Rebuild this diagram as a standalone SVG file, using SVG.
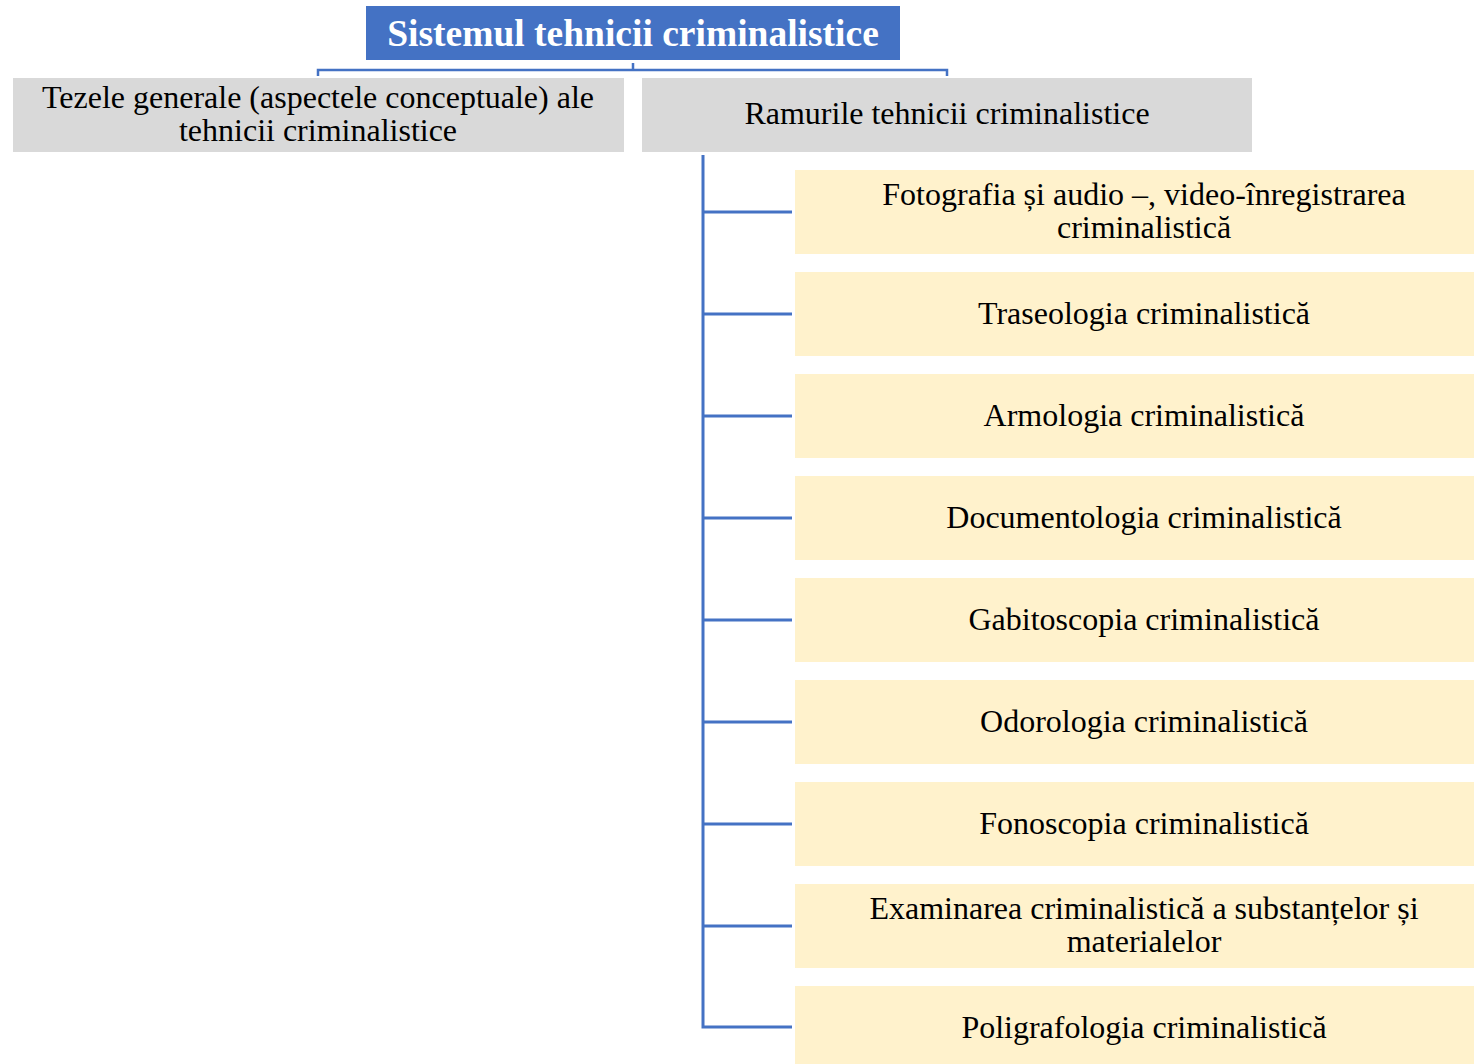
<svg xmlns="http://www.w3.org/2000/svg" width="1474" height="1064" viewBox="0 0 1474 1064">
<style>
.t{font-family:"Liberation Serif","Times New Roman",serif;font-size:32px;fill:#000;text-anchor:middle}
.title{font-family:"Liberation Serif","Times New Roman",serif;font-size:37.5px;font-weight:bold;fill:#fff;text-anchor:middle}
.g{fill:#D9D9D9}
.y{fill:#FFF2CC}
.c{stroke:#4472C4;stroke-width:2.5;fill:none}
.v{stroke:#4472C4;stroke-width:3;fill:none}
</style>
<rect width="1474" height="1064" fill="#fff"/>
<g id="connectors">
<path class="c" d="M633 63V70M318 76V70H947V76"/>
<path class="v" d="M703 155V1027H792"/>
<path class="v" d="M703 212H792M703 314H792M703 416H792M703 518H792M703 620H792M703 722H792M703 824H792M703 926H792"/>
</g>
<g id="root"><rect x="366" y="6" width="534" height="54" fill="#4472C4"/><text class="title" x="633" y="46">Sistemul tehnicii criminalistice</text></g>
<g id="general"><rect class="g" x="13" y="78" width="611" height="74"/><text class="t" x="318" y="108">Tezele generale (aspectele conceptuale) ale</text><text class="t" x="318" y="141">tehnicii criminalistice</text></g>
<g id="ramuri"><rect class="g" x="642" y="78" width="610" height="74"/><text class="t" x="947" y="124">Ramurile tehnicii criminalistice</text></g>
<g id="n1"><rect class="y" x="795" y="170" width="700" height="84"/><text class="t" x="1144" y="205">Fotografia și audio –, video-înregistrarea</text><text class="t" x="1144" y="238">criminalistică</text></g>
<g id="n2"><rect class="y" x="795" y="272" width="700" height="84"/><text class="t" x="1144" y="324">Traseologia criminalistică</text></g>
<g id="n3"><rect class="y" x="795" y="374" width="700" height="84"/><text class="t" x="1144" y="426">Armologia criminalistică</text></g>
<g id="n4"><rect class="y" x="795" y="476" width="700" height="84"/><text class="t" x="1144" y="528">Documentologia criminalistică</text></g>
<g id="n5"><rect class="y" x="795" y="578" width="700" height="84"/><text class="t" x="1144" y="630">Gabitoscopia criminalistică</text></g>
<g id="n6"><rect class="y" x="795" y="680" width="700" height="84"/><text class="t" x="1144" y="732">Odorologia criminalistică</text></g>
<g id="n7"><rect class="y" x="795" y="782" width="700" height="84"/><text class="t" x="1144" y="834">Fonoscopia criminalistică</text></g>
<g id="n8"><rect class="y" x="795" y="884" width="700" height="84"/><text class="t" x="1144" y="919">Examinarea criminalistică a substanțelor și</text><text class="t" x="1144" y="952">materialelor</text></g>
<g id="n9"><rect class="y" x="795" y="986" width="700" height="84"/><text class="t" x="1144" y="1038">Poligrafologia criminalistică</text></g>
</svg>
